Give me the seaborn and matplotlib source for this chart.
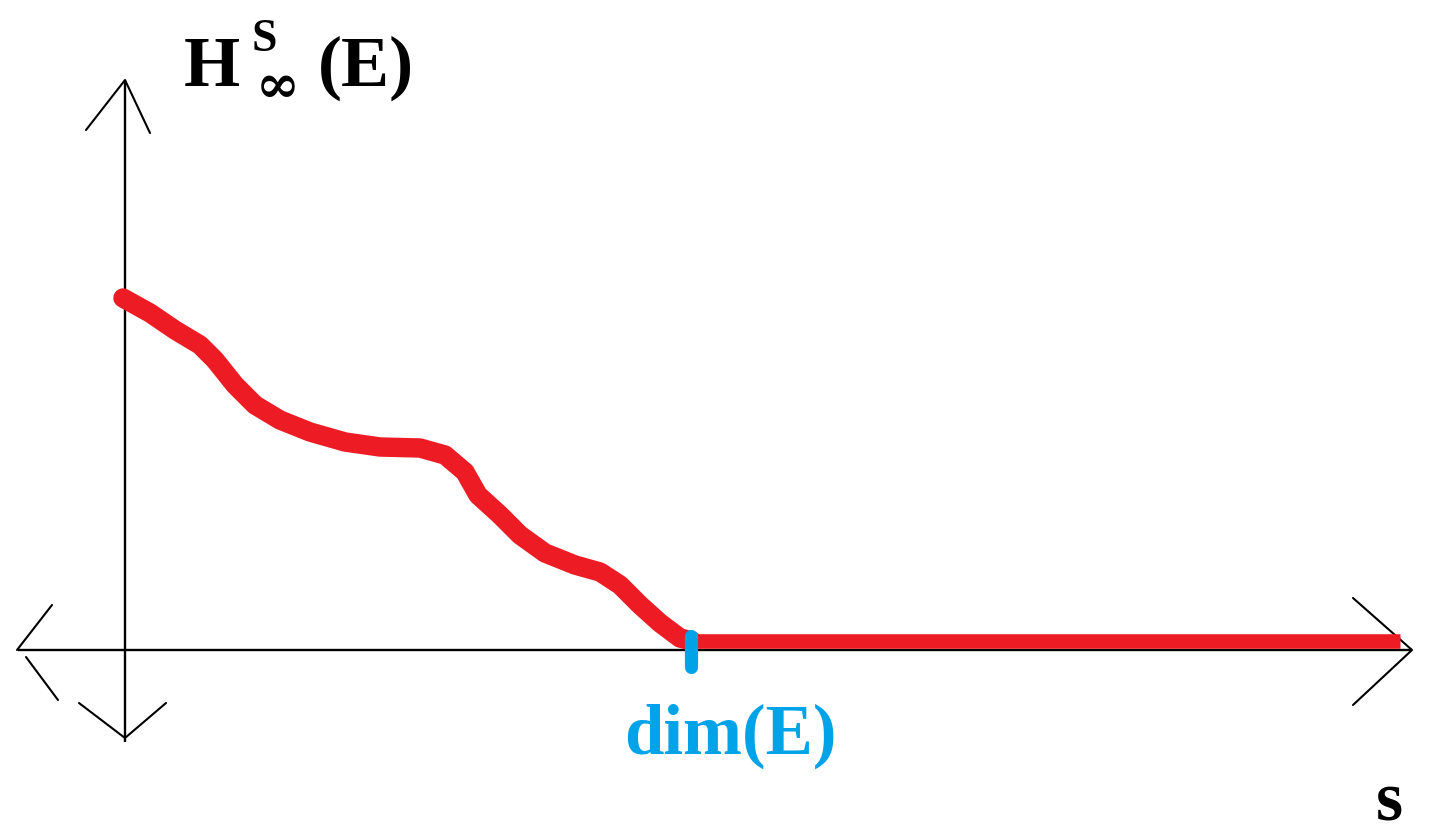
import matplotlib
matplotlib.use("Agg")
import matplotlib.pyplot as plt
import seaborn as sns
import pandas as pd

# ---- data (drawing units: 0..1430 wide, 0..835 tall, y downward) ----
curve_x = [123, 150, 175, 200, 215, 235, 255, 280, 310, 345, 380, 420, 445,
           465, 478, 500, 520, 545, 575, 600, 620, 640, 660, 680, 692]
curve_y = [298, 313, 330, 345, 360, 385, 405, 420, 432, 442, 447, 448, 455,
           472, 495, 515, 535, 553, 565, 572, 585, 605, 623, 638, 641]
flat_x = [692, 1400]
flat_y = [641, 641]
dim_x = 691
title_main = "H"
title_sup = "S"
title_sub = "∞"
title_arg = "(E)"
dim_label = "dim(E)"
x_label = "s"

sns.set_theme(style="white")
plt.rcParams["font.family"] = ["Liberation Serif", "DejaVu Serif"]

fig = plt.figure(figsize=(14.3, 8.35), dpi=100)
ax = fig.add_axes([0, 0, 1, 1])
ax.set_xlim(0, 1430)
ax.set_ylim(835, 0)
ax.axis("off")

# axes lines
ax.plot([125, 125], [80, 742], color="black", lw=1.7, solid_capstyle="butt")
ax.plot([18, 1412], [650, 650], color="black", lw=1.7, solid_capstyle="butt")
# arrow heads
arm = dict(color="black", lw=1.5)
ax.plot([86, 125, 150], [130, 80, 133], **arm)
ax.plot([79, 125, 166], [703, 738, 703], **arm)
ax.plot([52, 17], [605, 650], **arm)
ax.plot([26, 58], [657, 700], **arm)
ax.plot([1353, 1412, 1353], [598, 650, 705], **arm)

red = "#ED1C24"
blue = "#00A2E8"
dfc = pd.DataFrame({"x": curve_x, "y": curve_y})
sns.lineplot(data=dfc, x="x", y="y", ax=ax, color=red, lw=14, sort=False,
             solid_capstyle="round", solid_joinstyle="round", estimator=None)
dff = pd.DataFrame({"x": flat_x, "y": flat_y})
sns.lineplot(data=dff, x="x", y="y", ax=ax, color=red, lw=10.5, sort=False,
             solid_capstyle="butt", estimator=None)
ax.plot([dim_x, dim_x], [636, 667], color=blue, lw=9.5, solid_capstyle="round")

# labels
ax.text(184, 86, title_main, fontsize=52, fontweight="bold", color="black",
        ha="left", va="baseline")
ax.text(252, 51, title_sup, fontsize=33, fontweight="bold", color="black",
        ha="left", va="baseline")
ax.text(256, 102, title_sub, fontsize=38, fontweight="bold", color="black",
        ha="left", va="baseline", family=["DejaVu Serif"])
ax.text(318, 86, title_arg, fontsize=52, fontweight="bold", color="black",
        ha="left", va="baseline")
ax.text(730, 754, dim_label, fontsize=51, fontweight="bold", color=blue,
        ha="center", va="baseline")
ax.text(1389, 820, x_label, fontsize=50, fontweight="bold", color="black",
        ha="center", va="baseline")

fig.savefig("out.png", dpi=100, facecolor="white")
